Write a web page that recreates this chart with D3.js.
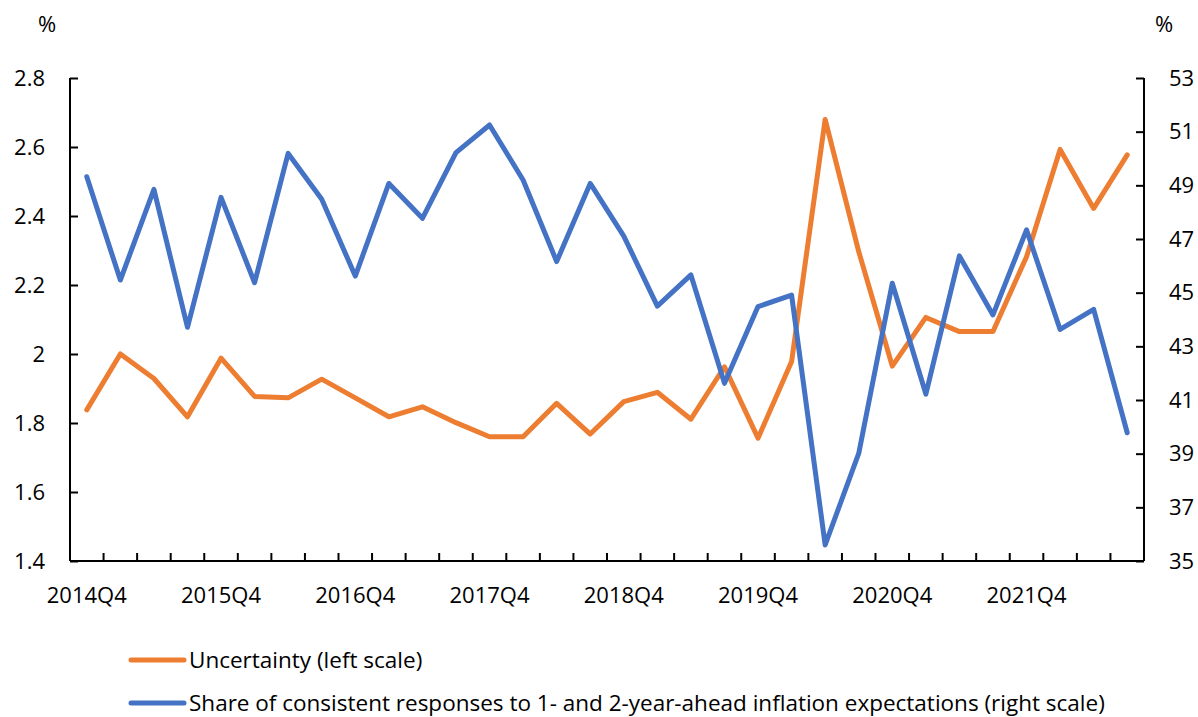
<!DOCTYPE html>
<html><head><meta charset="utf-8">
<script src="https://cdn.jsdelivr.net/npm/d3@7"></script>
<style>
html,body{margin:0;padding:0;background:#fff;}
svg text{font-family:"Open Sans",sans-serif;fill:#000;}
</style></head>
<body>
<svg id="chart" width="1198" height="717"></svg>
<script>
const categories = ["2014Q4","2015Q1","2015Q2","2015Q3","2015Q4","2016Q1","2016Q2","2016Q3",
  "2016Q4","2017Q1","2017Q2","2017Q3","2017Q4","2018Q1","2018Q2","2018Q3",
  "2018Q4","2019Q1","2019Q2","2019Q3","2019Q4","2020Q1","2020Q2","2020Q3",
  "2020Q4","2021Q1","2021Q2","2021Q3","2021Q4","2022Q1","2022Q2","2022Q3"];
const uncertainty = [1.838,2.000,1.929,1.818,1.988,1.877,1.873,1.927,1.873,1.818,1.847,1.801,1.760,1.760,1.857,1.768,
  1.862,1.889,1.811,1.963,1.756,1.978,2.680,2.297,1.965,2.106,2.065,2.065,2.282,2.593,2.422,2.577];
const share = [49.32,45.47,48.85,43.71,48.55,45.37,50.19,48.48,45.62,49.07,47.77,50.22,51.25,49.20,46.16,49.07,
  47.11,44.50,45.66,41.62,44.48,44.91,35.60,39.01,45.35,41.22,46.37,44.17,47.34,43.63,44.38,39.78];
const leftTicks = [1.4,1.6,1.8,2.0,2.2,2.4,2.6,2.8];
const leftTickLabels = ["1.4","1.6","1.8","2","2.2","2.4","2.6","2.8"];
const rightTicks = [35,37,39,41,43,45,47,49,51,53];
const xLabels = ["2014Q4","2015Q4","2016Q4","2017Q4","2018Q4","2019Q4","2020Q4","2021Q4"];
const seriesNames = ["Uncertainty (left scale)","Share of consistent responses to 1- and 2-year-ahead inflation expectations (right scale)"];
const colors = ["#ED7D31","#4472C4"];

const L = 70, R = 1144, T = 78, B = 561;
const svg = d3.select("#chart");
const x = d3.scaleBand().domain(categories).range([L, R]).padding(0);
const yL = d3.scaleLinear().domain([1.4, 2.8]).range([B, T]);
const yR = d3.scaleLinear().domain([35, 53]).range([B, T]);
const cx = c => x(c) + x.bandwidth() / 2;

// Left axis
const gL = svg.append("g").attr("transform", `translate(${L},0)`)
  .call(d3.axisLeft(yL).tickValues(leftTicks).tickSize(-8).tickPadding(25)
    .tickFormat((d, i) => leftTickLabels[i]));
// Right axis
const gR = svg.append("g").attr("transform", `translate(${R},0)`)
  .call(d3.axisRight(yR).tickValues(rightTicks).tickSize(-8).tickPadding(25).tickFormat(d3.format("d")));
[gL, gR].forEach(g => {
  g.select(".domain").attr("stroke", "#000").attr("stroke-width", 2).attr("d", `M0,${T}V${B}`);
  g.selectAll(".tick line").attr("stroke", "#000").attr("stroke-width", 2);
  g.selectAll("text").style("font-size", "22px").attr("font-family", null);
});

// Bottom axis
const gX = svg.append("g").attr("transform", `translate(0,${B})`)
  .call(d3.axisBottom(x).tickValues(xLabels).tickSize(0).tickPadding(26));
gX.select(".domain").remove();
gX.selectAll("text").style("font-size", "22px").attr("font-family", null);
svg.append("line").attr("x1", L).attr("x2", R).attr("y1", B).attr("y2", B)
  .attr("stroke", "#000").attr("stroke-width", 2);
svg.append("g").selectAll("line").data(categories.slice(1)).join("line")
  .attr("x1", d => x(d)).attr("x2", d => x(d)).attr("y1", B).attr("y2", B - 8)
  .attr("stroke", "#000").attr("stroke-width", 2);

// unit labels
svg.append("text").attr("x", 47).attr("y", 32).attr("text-anchor", "middle").style("font-size", "22px").text("%");
svg.append("text").attr("x", 1164).attr("y", 32).attr("text-anchor", "middle").style("font-size", "22px").text("%");

// lines
const lineL = d3.line().x((d, i) => cx(categories[i])).y(d => yL(d));
const lineR = d3.line().x((d, i) => cx(categories[i])).y(d => yR(d));
svg.append("path").datum(uncertainty).attr("d", lineL).attr("fill", "none")
  .attr("stroke", colors[0]).attr("stroke-width", 5).attr("stroke-linejoin", "round").attr("stroke-linecap", "round");
svg.append("path").datum(share).attr("d", lineR).attr("fill", "none")
  .attr("stroke", colors[1]).attr("stroke-width", 5).attr("stroke-linejoin", "round").attr("stroke-linecap", "round");

// legend
const legY = [660, 703];
const lg = svg.append("g").selectAll("g").data(seriesNames).join("g")
  .attr("transform", (d, i) => `translate(0,${legY[i]})`);
lg.append("line").attr("x1", 131).attr("x2", 184).attr("y1", 0).attr("y2", 0)
  .attr("stroke", (d, i) => colors[i]).attr("stroke-width", 5).attr("stroke-linecap", "round");
lg.append("text").attr("x", 189).attr("y", 0).attr("dy", "0.35em").style("font-size", "22.5px").text(d => d);
</script>
</body></html>
